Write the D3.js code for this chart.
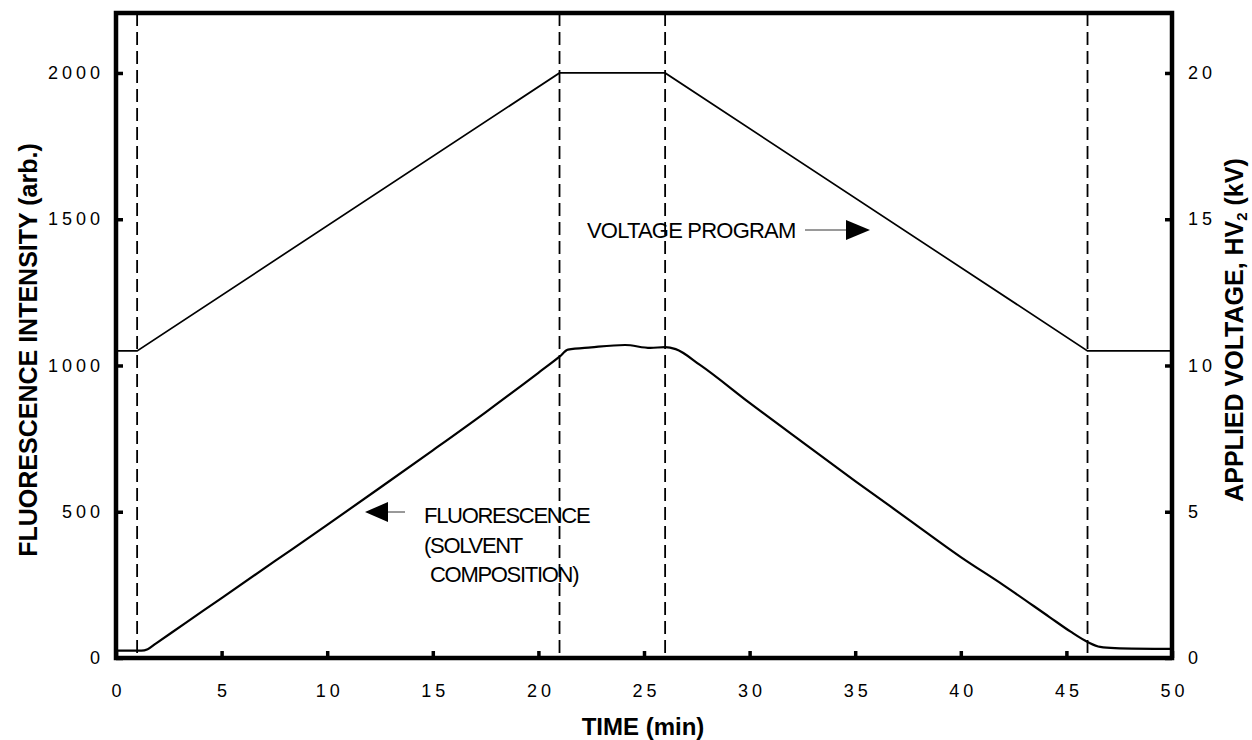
<!DOCTYPE html>
<html>
<head>
<meta charset="utf-8">
<script src="https://cdn.jsdelivr.net/npm/d3@7"></script>
<style>
  body { margin: 0; background: #fff; }
  text { font-family: "Liberation Sans", Arial, sans-serif; fill: #000; }
</style>
</head>
<body>
<div id="chart"></div>
<script>
// time (min) and fluorescence (arb.)
const fluorTime = [0, 1.2, 1.5, 1.9, 3.3, 5, 7.5, 10, 12.5, 15, 17.5, 20, 21, 21.4, 22.5, 24.1, 25.3, 26, 26.5, 27.65, 30, 32.5, 35, 37.5, 40, 42, 44.2, 45.2, 46, 46.6, 47.3, 50];
const fluorValue = [25, 25, 30, 50, 120, 205, 330, 455, 582, 710, 840, 975, 1030, 1054, 1062, 1070, 1060, 1063, 1056, 1002, 872, 738, 605, 475, 345, 250, 140, 90, 55, 38, 34, 31];
// voltage program (kV)
const voltTime = [0, 1, 21, 26, 46, 50];
const voltValue = [10.5, 10.5, 20, 20, 10.5, 10.5];
const stepTimes = [1, 21, 26, 46];
const xTicks = [0, 5, 10, 15, 20, 25, 30, 35, 40, 45, 50];
const yTicks = [0, 500, 1000, 1500, 2000];
const y2Ticks = [0, 5, 10, 15, 20];

const W = 1252, H = 740;
const L = 116, R = 1172, T = 13, B = 658;

const svg = d3.select("#chart").append("svg")
    .attr("width", W)
    .attr("height", H);

const x = d3.scaleLinear().domain([0, 50]).range([L, R]);
const y = d3.scaleLinear().domain([0, 2205]).range([B, T]);
const y2 = d3.scaleLinear().domain([0, 22.05]).range([B, T]);

// dashed step markers
svg.selectAll(".step")
    .data(stepTimes)
    .enter()
    .append("line")
    .attr("x1", d => x(d)).attr("x2", d => x(d))
    .attr("y1", T).attr("y2", B)
    .attr("stroke", "#000")
    .attr("stroke-width", 1.8)
    .attr("stroke-dasharray", "13,6");

// curves
const fluorLine = d3.line()
    .x((d, i) => x(fluorTime[i]))
    .y(d => y(d))
    .curve(d3.curveMonotoneX);
svg.append("path")
    .attr("d", fluorLine(fluorValue))
    .attr("fill", "none")
    .attr("stroke", "#000")
    .attr("stroke-width", 2.2);

const voltLine = d3.line()
    .x((d, i) => x(voltTime[i]))
    .y(d => y2(d));
svg.append("path")
    .attr("d", voltLine(voltValue))
    .attr("fill", "none")
    .attr("stroke", "#000")
    .attr("stroke-width", 1.7);

// axes with inward ticks
const fmt = d3.format("d");
const xAxis = svg.append("g")
    .attr("transform", `translate(0,${B})`)
    .call(d3.axisBottom(x).tickValues(xTicks).tickFormat(fmt).tickSizeInner(-7).tickSizeOuter(0).tickPadding(26));
const yAxis = svg.append("g")
    .attr("transform", `translate(${L},0)`)
    .call(d3.axisLeft(y).tickValues(yTicks).tickFormat(fmt).tickSizeInner(-7).tickSizeOuter(0).tickPadding(12));
const y2Axis = svg.append("g")
    .attr("transform", `translate(${R},0)`)
    .call(d3.axisRight(y2).tickValues(y2Ticks).tickFormat(fmt).tickSizeInner(-7).tickSizeOuter(0).tickPadding(16));

[xAxis, yAxis, y2Axis].forEach(g => {
    g.select(".domain").remove();
    g.selectAll(".tick line").attr("stroke", "#000").attr("stroke-width", 3.5);
    g.selectAll(".tick text")
        .style("font-family", "'Liberation Sans', Arial, sans-serif")
        .style("font-size", "18px")
        .style("letter-spacing", "4px")
        .attr("fill", "#000");
});
xAxis.selectAll(".tick text").attr("dx", "2px");

// frame
svg.append("rect")
    .attr("x", L).attr("y", T)
    .attr("width", R - L).attr("height", B - T)
    .attr("fill", "none")
    .attr("stroke", "#000")
    .attr("stroke-width", 4.5);

// axis titles
svg.append("text")
    .attr("x", (L + R) / 2 - 1).attr("y", 735)
    .attr("text-anchor", "middle")
    .style("font-size", "24px").style("font-weight", "bold")
    .text("TIME  (min)");

svg.append("text")
    .attr("transform", `translate(37,350) rotate(-90)`)
    .attr("text-anchor", "middle")
    .style("font-size", "25px").style("font-weight", "bold")
    .text("FLUORESCENCE INTENSITY (arb.)");

const rt = svg.append("text")
    .attr("transform", `translate(1243,330) rotate(-90)`)
    .attr("text-anchor", "middle")
    .style("font-size", "25px").style("font-weight", "bold");
rt.append("tspan").text("APPLIED VOLTAGE, HV");
rt.append("tspan").attr("dy", 4).style("font-size", "15px").text("2");
rt.append("tspan").attr("dy", -4).text("  (kV)");

// annotations
const annot = svg.append("g")
    .style("font-size", "22px")
    .style("letter-spacing", "-1.3px");

annot.append("text").attr("x", 587).attr("y", 238)
    .style("letter-spacing", "-0.8px")
    .text("VOLTAGE PROGRAM");
annot.append("line")
    .attr("x1", 805).attr("x2", 848).attr("y1", 230).attr("y2", 230)
    .attr("stroke", "#000").attr("stroke-width", 0.8);
annot.append("path")
    .attr("d", "M846,220 L870,230 L846,240 Z")
    .attr("fill", "#000");

annot.append("text").attr("x", 424).attr("y", 523).text("FLUORESCENCE");
annot.append("text").attr("x", 424).attr("y", 553).text("(SOLVENT");
annot.append("text").attr("x", 430).attr("y", 582).text("COMPOSITION)");
annot.append("line")
    .attr("x1", 386).attr("x2", 405).attr("y1", 512).attr("y2", 512)
    .attr("stroke", "#000").attr("stroke-width", 0.8);
annot.append("path")
    .attr("d", "M388,502 L365,512 L388,522 Z")
    .attr("fill", "#000");
</script>
</body>
</html>
